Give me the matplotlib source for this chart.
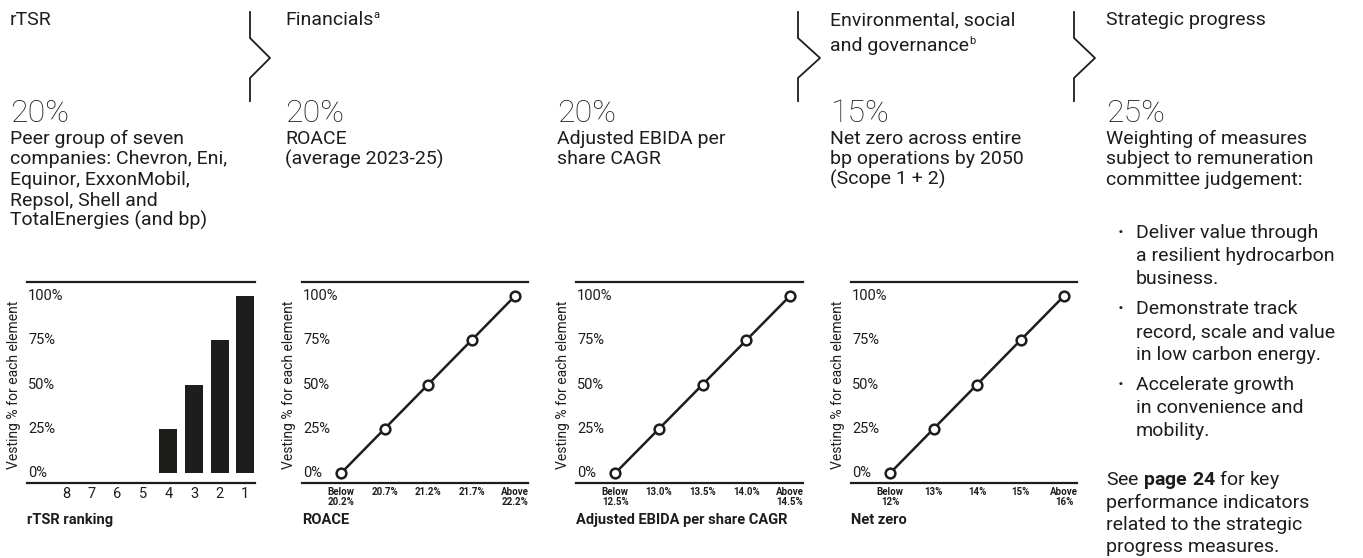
import matplotlib
matplotlib.use('Agg')
import matplotlib.pyplot as plt
from matplotlib.lines import Line2D

plt.rcParams['font.family'] = ['Roboto', 'DejaVu Sans']
plt.rcParams['mathtext.fontset'] = 'custom'
plt.rcParams['mathtext.rm'] = 'Roboto'
plt.rcParams['mathtext.bf'] = 'Roboto:bold'

INK = '#1d1d1b'

# --- data ---
headers = ['rTSR', 'Financials', 'Environmental, social', 'and governance', 'Strategic progress']
weights = ['20%', '20%', '20%', '15%', '25%']
desc_rtsr = ['Peer group of seven', 'companies: Chevron, Eni,', 'Equinor, ExxonMobil,',
             'Repsol, Shell and', 'TotalEnergies (and bp)']
desc_roace = ['ROACE', '(average 2023-25)']
desc_ebida = ['Adjusted EBIDA per', 'share CAGR']
desc_netzero = ['Net zero across entire', 'bp operations by 2050', '(Scope 1 + 2)']
desc_strategic = ['Weighting of measures', 'subject to remuneration', 'committee judgement:']
bullets = [['Deliver value through', 'a resilient hydrocarbon', 'business.'],
           ['Demonstrate track', 'record, scale and value', 'in low carbon energy.'],
           ['Accelerate growth', 'in convenience and', 'mobility.']]
see_also = ['See $\\mathbf{page\\ 24}$ for key', 'performance indicators',
            'related to the strategic', 'progress measures.']

rank_labels = ['8', '7', '6', '5', '4', '3', '2', '1']
rank_vesting = [0, 0, 0, 0, 25, 50, 75, 100]
vesting_ticks = [0, 25, 50, 75, 100]
vesting_steps = [0, 25, 50, 75, 100]
roace_labels = ['Below\n20.2%', '20.7%', '21.2%', '21.7%', 'Above\n22.2%']
ebida_labels = ['Below\n12.5%', '13.0%', '13.5%', '14.0%', 'Above\n14.5%']
netzero_labels = ['Below\n12%', '13%', '14%', '15%', 'Above\n16%']

W, H = 1363, 558
fig = plt.figure(figsize=(W / 100, H / 100), dpi=100)
renderer = fig.canvas.get_renderer()


def fx(px):
    return px / W


def fy(py):
    return 1 - py / H


def txt(x, y, s, **kw):
    kw.setdefault('fontsize', 14)
    kw.setdefault('color', INK)
    return fig.text(fx(x), fy(y), s, ha='left', va='baseline', **kw)


def txt_sup(x, y, s, mark):
    # main text followed by a small raised footnote letter
    t = txt(x, y, s)
    w = t.get_window_extent(renderer=renderer).width
    txt(x + w, y - 7, mark, fontsize=8)


def bracket(x, tip):
    xs = [x, x, tip, x, x]
    ys = [12, 38, 58, 78, 101]
    fig.add_artist(Line2D([fx(v) for v in xs], [fy(v) for v in ys], color=INK, lw=1.3))


# column headers
txt(10, 25, headers[0])
txt_sup(285, 25, headers[1], 'a')
txt(830, 25, headers[2])
txt_sup(830, 51, headers[3], 'b')
txt(1106, 25, headers[4])
bracket(250, 270)
bracket(798, 820)
bracket(1074, 1095)

# big weights
for x, w in zip([10, 285, 557, 830, 1106], weights):
    txt(x, 122, w, fontsize=23, fontweight='light')

# descriptions
for x, lines in [(10, desc_rtsr), (285, desc_roace), (557, desc_ebida),
                 (830, desc_netzero), (1106, desc_strategic)]:
    for i, line in enumerate(lines):
        txt(x, 144 + i * 20.5, line)

y = 238
for item in bullets:
    for i, line in enumerate(item):
        if i == 0:
            txt(1118, y, '·', fontweight='bold')
        txt(1136, y, line)
        y += 23
    y += 7
y += 19
for line in see_also:
    txt(1106, y, line)
    y += 22.5


# --- charts ---
def setup_axes(left, right, xlabel, top=282, bottom=483):
    ax = fig.add_axes([fx(left), fy(bottom), (right - left) / W, (bottom - top) / H])
    ax.set_ylim(-5.6, 107.9)
    for s in ['left', 'right']:
        ax.spines[s].set_visible(False)
    for s in ['top', 'bottom']:
        ax.spines[s].set_linewidth(1.6)
        ax.spines[s].set_color(INK)
    ax.set_yticks([])
    ax.tick_params(axis='x', length=0, colors=INK)
    for v in vesting_ticks:
        ax.text(0.005, v, f'{v}%', transform=ax.get_yaxis_transform(),
                ha='left', va='center', fontsize=10.5, color=INK)
    fig.text(fx(left - 13), fy(385), 'Vesting % for each element', rotation=90,
             ha='center', va='center', fontsize=10, color=INK)
    txt(left, 524, xlabel, fontsize=10.5, fontweight='bold')
    return ax


ax = setup_axes(27, 255, 'rTSR ranking')
ax.bar(range(len(rank_labels)), rank_vesting, width=0.7, color=INK)
ax.set_xlim(-1.52, 7.38)
ax.set_xticks(range(len(rank_labels)))
ax.set_xticklabels(rank_labels, fontsize=10.5)
ax.tick_params(axis='x', pad=3)

for left, right, labels, xlabel in [(302, 528, roace_labels, 'ROACE'),
                                    (576, 803, ebida_labels, 'Adjusted EBIDA per share CAGR'),
                                    (851, 1077, netzero_labels, 'Net zero')]:
    ax = setup_axes(left, right, xlabel)
    ax.plot(range(len(labels)), vesting_steps, color=INK, lw=1.8, marker='o', ms=7,
            mfc='white', mec=INK, mew=1.8, clip_on=False)
    ax.set_xlim(-0.9, 4.3)
    ax.set_xticks(range(len(labels)))
    ax.set_xticklabels(labels, fontsize=7, fontweight='bold', linespacing=1.0)
    ax.tick_params(axis='x', pad=3)

fig.savefig('out.png', dpi=100, facecolor='white')
